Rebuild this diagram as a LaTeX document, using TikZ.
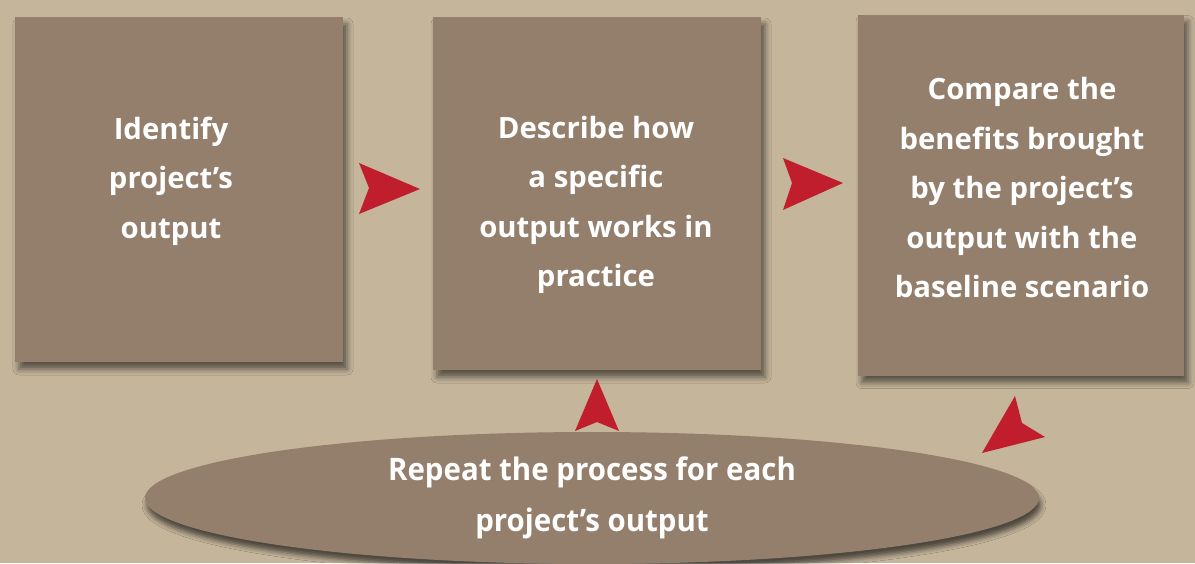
\documentclass[tikz,border=0pt]{standalone}
\usepackage{fontspec}
\setmainfont{Open Sans}
\newfontfamily\narrowfont{Open Sans}[FakeStretch=0.95]
\usepackage{tikz}
\usetikzlibrary{shapes.geometric, shadows.blur, positioning}

\definecolor{sand}{RGB}{196,181,155}
\definecolor{taupe}{RGB}{147,127,108}
\definecolor{pointred}{RGB}{193,30,45}

\tikzset{
  stepbox/.style={rectangle, fill=taupe, inner sep=0pt,
    blur shadow={shadow xshift=4pt, shadow yshift=-7pt, shadow blur radius=6pt, shadow opacity=55}},
  steptext/.style={text=white, align=center, font=\bfseries\fontsize{29.3}{49.5}\selectfont},
  loopbox/.style={ellipse, fill=taupe, inner sep=0pt, text=white, align=center,
    font=\narrowfont\bfseries\fontsize{31}{51}\selectfont,
    blur shadow={shadow xshift=2pt, shadow yshift=-7pt, shadow blur radius=5pt, shadow opacity=60}},
  pointer/.style={fill=pointred}
}

\begin{document}
\begin{tikzpicture}[x=1pt,y=-1pt]
\fill[sand] (0,0) rectangle (1195,563);
\useasboundingbox (0,0) rectangle (1195,563);

% the three steps
\node[stepbox, minimum width=328pt, minimum height=345pt] (identify) at (179,189.5) {};
\node[stepbox, minimum width=328pt, minimum height=353pt] (describe) at (597,193.5) {};
\node[stepbox, minimum width=326pt, minimum height=361pt] (compare) at (1021,195) {};

\node[steptext] (identify text) at (171,181) {Identify\\project’s\\output};
\node[steptext] (describe text) at (596,205) {Describe how\\a specific\\output works in\\practice};
\node[steptext] (compare text) at (1022,188) {Compare the\\benefits brought\\by the project’s\\output with the\\baseline scenario};

% loop back
\node[loopbox, minimum width=894pt, minimum height=132pt] (repeat) at (592,498) {Repeat the process for each\\project’s output};

% arrowheads between the steps
\fill[pointer] (420,189) -- (359,163) -- (369,188) -- (359,214) -- cycle;
\fill[pointer] (843,183) -- (783,158) -- (792,183) -- (783,210) -- cycle;
\fill[pointer] (597,379) -- (575,431) -- (597,422) -- (619,431) -- cycle;
\fill[pointer] (982,453) -- (1015,396) -- (1022,423) -- (1045,437) -- cycle;
\end{tikzpicture}
\end{document}
